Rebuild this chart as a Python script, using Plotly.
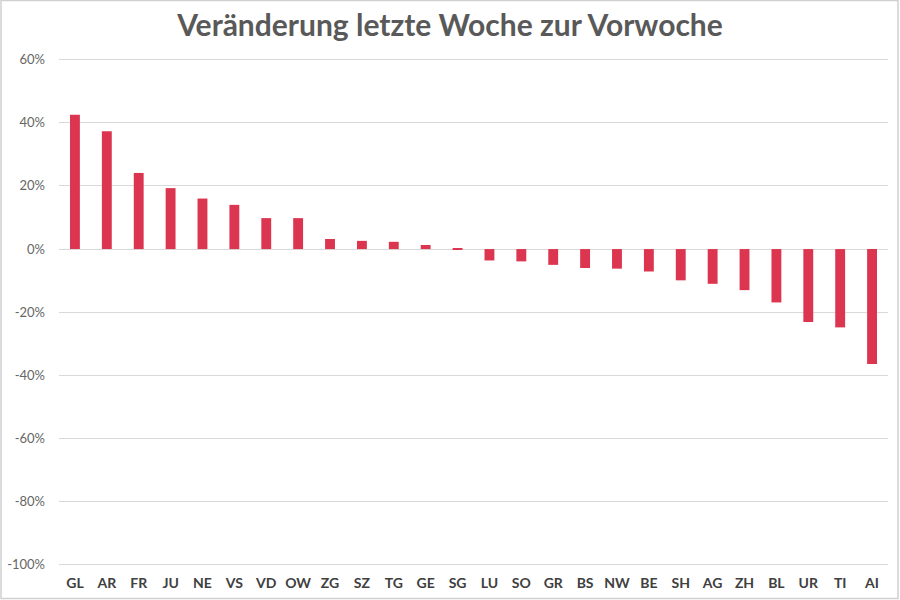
import plotly.graph_objects as go

categories = ["GL", "AR", "FR", "JU", "NE", "VS", "VD", "OW", "ZG", "SZ", "TG", "GE", "SG",
              "LU", "SO", "GR", "BS", "NW", "BE", "SH", "AG", "ZH", "BL", "UR", "TI", "AI"]
values = [0.425, 0.373, 0.241, 0.193, 0.160, 0.140, 0.098, 0.098, 0.032, 0.026, 0.023, 0.013, 0.003,
          -0.036, -0.039, -0.050, -0.060, -0.062, -0.071, -0.099, -0.110, -0.130, -0.169, -0.231, -0.248, -0.364]
tick_vals = [0.6, 0.4, 0.2, 0.0, -0.2, -0.4, -0.6, -0.8, -1.0]
tick_text = ["60%", "40%", "20%", "0%", "-20%", "-40%", "-60%", "-80%", "-100%"]
title_text = "Veränderung letzte Woche zur Vorwoche"

L, R, T, B = 59, 12, 58, 31
W, H = 900, 600
pw, ph = W - L - R, H - T - B

fig = go.Figure(go.Bar(x=categories, y=values, marker_color="#DC3550", marker_line_width=0))

fig.update_layout(
    width=W, height=H,
    margin=dict(l=L, r=R, t=T, b=B, pad=0),
    paper_bgcolor="white", plot_bgcolor="white",
    bargap=0.69,
    showlegend=False,
    title=dict(text=title_text, x=0.5, xref="container", xanchor="center", y=0.957, yanchor="middle",
               font=dict(family="Lato", size=30, color="#595959", weight="bold")),
    font=dict(family="Lato", color="#595959"),
)
fig.update_yaxes(range=[-1.013, 0.605], tickvals=tick_vals, ticktext=tick_text, automargin=False,
                 showgrid=True, gridcolor="#d9d9d9", gridwidth=1,
                 zeroline=True, zerolinecolor="#d9d9d9", zerolinewidth=1,
                 showline=False, ticks="", ticklabelstandoff=13,
                 tickfont=dict(family="Lato", size=13, color="#666666"))
fig.update_xaxes(showgrid=False, showline=False, ticks="", automargin=False, ticklabelstandoff=4,
                 tickfont=dict(family="Lato", size=14, color="#404040", weight="bold"))

# outer frame
fig.add_shape(type="rect", xref="paper", yref="paper",
              x0=(1 - L) / pw, x1=(W - 2 - L) / pw,
              y0=-(B - 1.5) / ph, y1=(H - B - 0.5) / ph,
              line=dict(color="#d0d0d0", width=1.5), fillcolor="rgba(0,0,0,0)", layer="above")

fig.write_html("out.html")
